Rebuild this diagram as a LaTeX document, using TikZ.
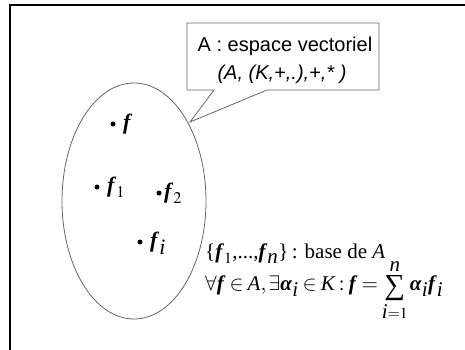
\documentclass[tikz,border=0pt]{standalone}
\usepackage{mathptmx}
\usepackage[no-math]{fontspec}
\setmainfont{Liberation Serif}
\newfontfamily\arialf{Liberation Sans}
\usetikzlibrary{shapes.geometric}
\newcommand\bff{\textbf{\textit{f}}}
\newcommand\bfalpha{\textbf{\textit{α}}}
\newcommand\itx[1]{\textit{#1}}
\newcommand\bigsigma{\mathop{\raisebox{-4.5pt}{\fontsize{29}{29}\selectfont ∑}}}
\tikzset{
  frameline/.style={line width=2.4pt, black},
  setline/.style={draw=black!60, line width=0.8pt},
  calloutline/.style={draw=black!60, fill=white, line width=0.8pt},
  dot/.style={circle, fill=black, inner sep=0pt, minimum size=5pt},
  sanstext/.style={font=\arialf\fontsize{20}{24}\selectfont, inner sep=0pt},
  sansit/.style={font=\arialf\itshape\fontsize{20}{24}\selectfont, inner sep=0pt},
  serif/.style={font=\fontsize{21}{25}\selectfont, inner sep=0pt},
  pointlabel/.style={font=\fontsize{22}{26}\selectfont, inner sep=0pt},
}
\begin{document}
\begin{tikzpicture}[x=1pt,y=-1pt]
\thickmuskip=3.5mu \medmuskip=3mu \thinmuskip=2mu
\useasboundingbox (0,0) rectangle (465,350);
% frame (top and left edges only)
\coordinate (fl) at (10,352);
\coordinate (fc) at (10,5);
\coordinate (fr) at (467,5);
\draw[frameline] (fl) -- (fc) -- (fr);
% the set A
\node[ellipse, setline, minimum width=144pt, minimum height=236pt, inner sep=0pt] (E) at (134,201) {};
% callout
\coordinate (c1) at (187,23);
\coordinate (c2) at (379,23);
\coordinate (c3) at (379,90);
\coordinate (c4) at (267,90);
\coordinate (tip) at (190,122);
\coordinate (c5) at (214,90);
\coordinate (c6) at (187,90);
\draw[calloutline] (c1) -- (c2) -- (c3) -- (c4) -- (tip) -- (c5) -- (c6) -- cycle;
\node[sanstext, anchor=base] (t1) at (285,52) {A : espace vectoriel};
\node[sansit, anchor=base] (t2) at (282,80) {(A, (K,+,.),+,* )};
% points
\node[dot] (d0) at (113,124) {};
\node[pointlabel, anchor=base west] (p0) at (123,129) {\bff};
\node[dot] (d1) at (97,187) {};
\node[pointlabel, anchor=base west] (p1) at (107,192) {$\bff_{1}$};
\node[dot] (d2) at (159,193) {};
\node[pointlabel, anchor=base west] (p2) at (164,198) {$\bff_{2}$};
\node[dot] (d3) at (140,242) {};
\node[pointlabel, anchor=base west] (p3) at (150,247) {$\bff_{\itx{i}}$};
% base and decomposition
\node[serif, anchor=base west] (b1) at (205,258) {\{$\bff_1$,...,$\bff_{\itx{n}}$\}\,: base de \itx{A}};
\node[serif, anchor=base west] (b2) at (205,290) {$\forall \bff \in \itx{A}, \exists \bfalpha_{\itx{i}} \in \itx{K} : \bff = \bigsigma\limits_{\itx{i}=1}^{\itx{n}} \bfalpha_{\itx{i}} \bff_{\itx{i}}$};
\end{tikzpicture}
\end{document}
